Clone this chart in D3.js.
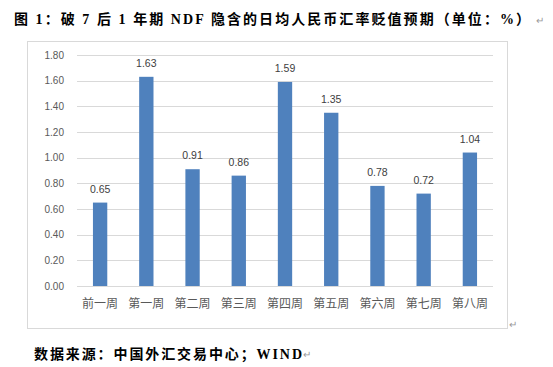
<!DOCTYPE html>
<html><head><meta charset="utf-8">
<script src="https://cdn.jsdelivr.net/npm/d3@7"></script>
<style>body{margin:0;background:#fff}</style>
</head><body><div id="c"></div>
<script>
const categories = ["前一周","第一周","第二周","第三周","第四周","第五周","第六周","第七周","第八周"];
const values = [0.65,1.63,0.91,0.86,1.59,1.35,0.78,0.72,1.04];
const yTicks = [0,0.2,0.4,0.6,0.8,1.0,1.2,1.4,1.6,1.8];
const titleText = "图 1：破 7 后 1 年期 NDF 隐含的日均人民币汇率贬值预期（单位：%）";
const sourceText = "数据来源：中国外汇交易中心；WIND";

const W = 553, H = 367;
const svg = d3.select("#c").append("svg").attr("width", W).attr("height", H);

// chart frame
svg.append("rect").attr("x", 27.5).attr("y", 41.5).attr("width", 480).attr("height", 287)
  .attr("fill", "#fff").attr("stroke", "#d9d9d9");

const x = d3.scaleBand().domain(categories).range([77, 493]).paddingInner(0.69).paddingOuter(0.345);
const y = d3.scaleLinear().domain([0, 1.8]).range([286, 55]);

// gridlines
svg.append("g").selectAll("line").data(yTicks).join("line")
  .attr("x1", 77).attr("x2", 493)
  .attr("y1", d => Math.round(y(d)) + 0.5).attr("y2", d => Math.round(y(d)) + 0.5)
  .attr("stroke", "#d9d9d9");

// y axis labels
const yAxis = d3.axisLeft(y).tickValues(yTicks).tickFormat(d3.format(".2f")).tickSize(0).tickPadding(0);
const gy = svg.append("g").attr("transform", "translate(64,0)").call(yAxis);
gy.select(".domain").remove();
gy.selectAll("text").attr("fill", "#595959").style("font-family", "'Liberation Sans', Arial, sans-serif").style("font-size", "10px");

// x axis labels
const xAxis = d3.axisBottom(x).tickSize(0).tickPadding(0);
const gx = svg.append("g").attr("transform", "translate(0,299)").call(xAxis);
gx.select(".domain").remove();
gx.selectAll("text").attr("fill", "#595959").style("font-family", "'Noto Sans CJK SC', sans-serif").style("font-size", "12px");

// bars
svg.append("g").selectAll("rect").data(values).join("rect")
  .attr("x", (d, i) => x(categories[i]))
  .attr("width", x.bandwidth())
  .attr("y", d => y(d))
  .attr("height", d => y(0) - y(d))
  .attr("fill", "#4f81bd");

// data labels
svg.append("g").selectAll("text").data(values).join("text")
  .attr("x", (d, i) => x(categories[i]) + x.bandwidth() / 2)
  .attr("y", d => y(d) - 10)
  .attr("text-anchor", "middle")
  .attr("fill", "#404040")
  .style("font-family", "'Liberation Sans', Arial, sans-serif").style("font-size", "10.5px")
  .text(d => d.toFixed(2));

// title
svg.append("text").attr("x", 14).attr("y", 24)
  .attr("textLength", 516).attr("lengthAdjust", "spacing")
  .style("font-family", "'Liberation Serif', 'Noto Sans CJK SC', serif")
  .style("font-weight", "bold").style("font-size", "14px").attr("fill", "#000")
  .text(titleText);
svg.append("text").attr("x", 536).attr("y", 24).style("font-size", "10px").attr("fill", "#999").text("↵");

// source
svg.append("text").attr("x", 34).attr("y", 359)
  .attr("textLength", 268).attr("lengthAdjust", "spacing")
  .style("font-family", "'Liberation Serif', 'Noto Sans CJK SC', serif")
  .style("font-weight", "bold").style("font-size", "14px").attr("fill", "#000")
  .text(sourceText);
svg.append("text").attr("x", 303).attr("y", 358).style("font-size", "10px").attr("fill", "#999").text("↵");
svg.append("text").attr("x", 509).attr("y", 328).style("font-size", "10px").attr("fill", "#999").text("↵");
</script></body></html>
